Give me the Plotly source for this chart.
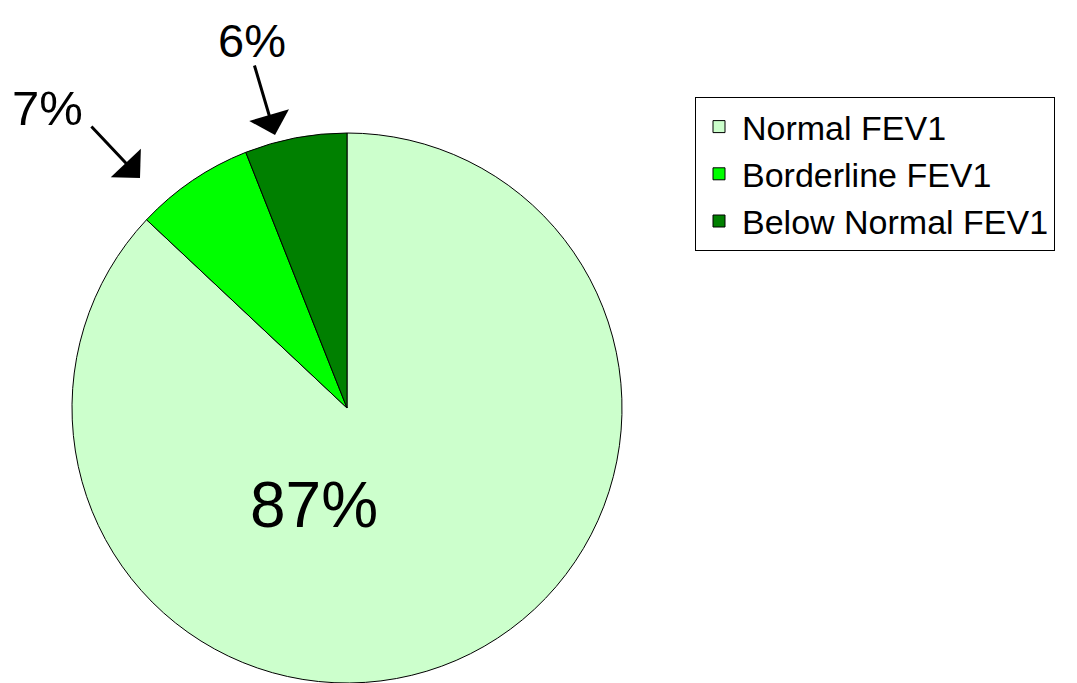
import plotly.graph_objects as go

# FEV1 groups, clockwise from 12 o'clock
labels = ["Normal FEV1", "Borderline FEV1", "Below Normal FEV1"]
shares = [87, 7, 6]
colors = ["#ccffcc", "#00ff00", "#008000"]

# page body has an 8px margin, so the figure sits 8px in from the window edge
OFF = 8
W, H = 1077 - OFF, 683 - OFF


def px(x):
    return (x - OFF) / W


def py(y):
    return 1 - (y - OFF) / H


# pie centre (347, 408) on screen, radius 275
fig = go.Figure(
    go.Pie(
        labels=labels,
        values=shares,
        sort=False,
        direction="clockwise",
        rotation=0,
        marker=dict(colors=colors, line=dict(color="#000000", width=1)),
        textinfo="none",
        hoverinfo="label+percent",
        domain=dict(x=[px(72), px(622)], y=[0, 550 / H]),
    )
)

font = "Liberation Sans, Arial, sans-serif"


def label(x, y, text, size):
    fig.add_annotation(x=px(x), y=py(y), text=text, showarrow=False,
                       xanchor="center", yanchor="middle",
                       font=dict(family=font, size=size, color="#000000"))


label(314, 505, f"{shares[0]}%", 64)
label(47, 108, f"{shares[1]}%", 49)
label(252, 40, f"{shares[2]}%", 47)

# arrows pointing at the two small slices
for head, tail in [((140, 178), (90, 125)), ((275, 135), (254, 64))]:
    fig.add_annotation(
        x=px(head[0]), y=py(head[1]), text="",
        xanchor="center", yanchor="middle",
        showarrow=True, arrowhead=1, arrowwidth=3, arrowsize=2.3,
        arrowcolor="#000000",
        ax=tail[0] - head[0], ay=tail[1] - head[1],
    )

fig.update_layout(
    width=W,
    height=H,
    margin=dict(l=0, r=0, t=0, b=0),
    paper_bgcolor="#ffffff",
    plot_bgcolor="#ffffff",
    showlegend=True,
    legend=dict(
        x=px(695), y=py(97), xanchor="left", yanchor="top",
        bordercolor="#000000", borderwidth=1, bgcolor="#ffffff",
        font=dict(family=font, size=34, color="#000000"),
        itemwidth=36,
        tracegroupgap=0,
    ),
)

fig.write_html("out.html")
